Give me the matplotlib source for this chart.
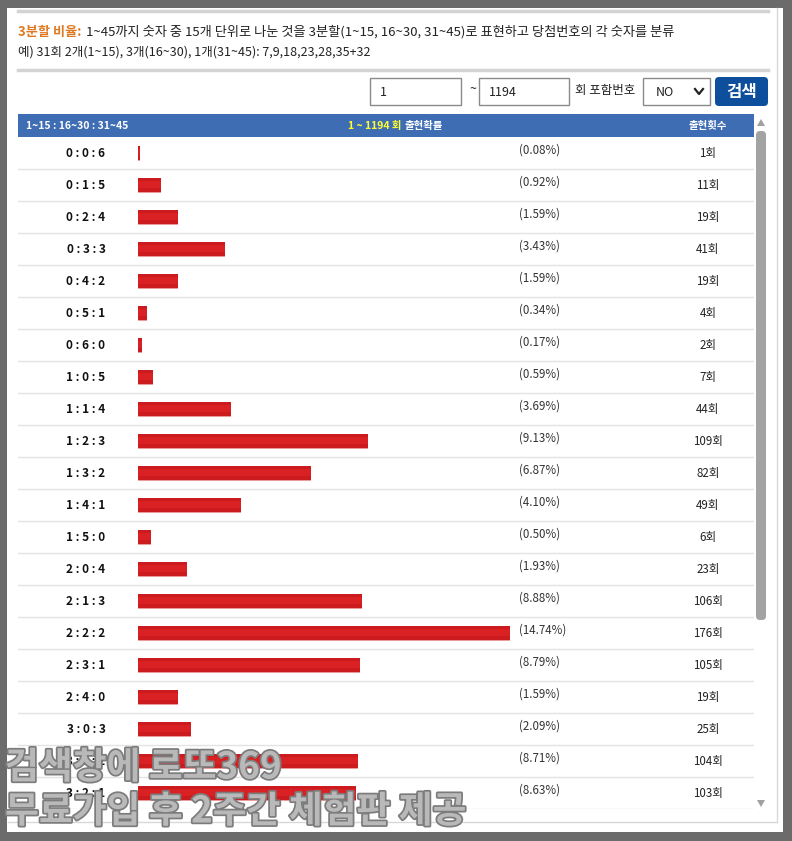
import matplotlib.pyplot as plt
import matplotlib.patheffects as pe
from matplotlib.patches import Rectangle, FancyBboxPatch, Polygon
from matplotlib.transforms import blended_transform_factory

# DATA #
combos = ['0:0:6', '0:1:5', '0:2:4', '0:3:3', '0:4:2', '0:5:1', '0:6:0',
          '1:0:5', '1:1:4', '1:2:3', '1:3:2', '1:4:1', '1:5:0',
          '2:0:4', '2:1:3', '2:2:2', '2:3:1', '2:4:0',
          '3:0:3', '3:1:2', '3:2:1']
pcts = [0.08, 0.92, 1.59, 3.43, 1.59, 0.34, 0.17,
        0.59, 3.69, 9.13, 6.87, 4.10, 0.50,
        1.93, 8.88, 14.74, 8.79, 1.59,
        2.09, 8.71, 8.63]
counts = [1, 11, 19, 41, 19, 4, 2,
          7, 44, 109, 82, 49, 6,
          23, 106, 176, 105, 19,
          25, 104, 103]
draw_from, draw_to = 1, 1194

plt.rcParams['font.family'] = ['Noto Sans CJK KR', 'DejaVu Sans']

W, H = 792, 841
fig = plt.figure(figsize=(W / 100, H / 100), dpi=100)
fig.patch.set_facecolor('#6b6b6b')


def px_axes(x0, y0, x1, y1, z):
    # axes placed by pixel box (top-left origin)
    ax = fig.add_axes([x0 / W, 1 - y1 / H, (x1 - x0) / W, (y1 - y0) / H], zorder=z)
    return ax


# BACKGROUND / PAGE DECORATION #
back = px_axes(0, 0, W, H, 0)
back.set_xlim(0, W)
back.set_ylim(H, 0)
back.axis('off')
back.add_patch(Rectangle((7, 8), 776, 824, fc='white', ec='none'))
back.plot([18, 768], [11, 11], color='#d3d3d3', lw=2.5)
back.plot([18, 768], [70, 70], color='#d3d3d3', lw=2.5)
back.plot([8, 777], [822, 822], color='#d8d8d8', lw=1)
back.plot([777, 777], [8, 822], color='#d8d8d8', lw=1)

t1 = back.text(18, 32, '3분할 비율:', color='#e07a22', fontsize=9.5, fontweight='bold', va='center')
back.annotate('1~45까지 숫자 중 15개 단위로 나눈 것을 3분할(1~15, 16~30, 31~45)로 표현하고 당첨번호의 각 숫자를 분류',
              xy=(1, 0.5), xycoords=t1, xytext=(3, 0), textcoords='offset points',
              va='center', fontsize=9.5, color='#222222')
back.text(18, 52, '예) 31회 2개(1~15), 3개(16~30), 1개(31~45): 7,9,18,23,28,35+32',
          fontsize=9, color='#222222', va='center')

# search inputs
back.add_patch(Rectangle((370, 78), 91, 27, fc='white', ec='#8a8a8a', lw=1))
back.text(380, 92, str(draw_from), fontsize=9, va='center', color='#222222')
back.text(469, 90, '~', fontsize=9, va='center', color='#222222')
back.add_patch(Rectangle((479, 78), 90, 27, fc='white', ec='#8a8a8a', lw=1))
back.text(489, 92, str(draw_to), fontsize=9, va='center', color='#222222')
back.text(575, 90, '회 포함번호', fontsize=9, va='center', color='#222222')
back.add_patch(Rectangle((643, 78), 67, 27, fc='white', ec='#8a8a8a', lw=1))
back.text(656, 92, 'NO', fontsize=9, va='center', color='#222222')
back.plot([695, 699, 703], [89, 94, 89], color='#222222', lw=1.6)
back.add_patch(FancyBboxPatch((715, 77), 53, 29, boxstyle='round,pad=0,rounding_size=4',
                              fc='#0d4f9c', ec='none'))
back.text(741.5, 92, '검색', fontsize=12, fontweight='bold', color='white', ha='center', va='center')

# table header band
back.add_patch(Rectangle((18, 114), 736, 23, fc='#3f6db4', ec='none'))
back.text(26, 126, '1~15 : 16~30 : 31~45', fontsize=7.5, fontweight='bold', color='white', va='center')
t2 = back.text(348, 126, f'{draw_from} ~ {draw_to} 회', fontsize=7.5, fontweight='bold',
               color='#ffff33', va='center')
back.annotate('출현확률', xy=(1, 0.5), xycoords=t2, xytext=(2, 0), textcoords='offset points',
              va='center', fontsize=7.5, fontweight='bold', color='white')
back.text(708, 126, '출현횟수', fontsize=7.5, fontweight='bold', color='white', ha='center', va='center')

# scrollbar
back.add_patch(Polygon([[757, 126], [765, 126], [761, 119]], closed=True, fc='#a0a0a0', ec='none'))
back.add_patch(FancyBboxPatch((756, 131), 10, 489, boxstyle='round,pad=0,rounding_size=4',
                              fc='#a3a3a3', ec='none'))
back.add_patch(Polygon([[757, 800], [765, 800], [761, 807]], closed=True, fc='#a0a0a0', ec='none'))

# TABLE BODY #
tx0, tx1 = 18, 754
bar_zero_px = 138
px_per_pct = 372 / 14.74
ax = px_axes(tx0, 137, tx1, 809, 2)
ax.patch.set_alpha(0)
n = len(combos)
rows = list(range(n))
ax.set_ylim(n - 0.5, -0.5)
ax.set_xlim(-(bar_zero_px - tx0) / px_per_pct, (tx1 - bar_zero_px) / px_per_pct)
ax.axis('off')

ax.barh(rows, pcts, height=0.44, left=0, color='#cc1b1e', zorder=3)
ax.barh([r - 0.02 for r in rows], pcts, height=0.2, left=0, color='#d92124', zorder=4)
ax.barh([r + 0.24 for r in rows], pcts, height=0.05, left=0, color='#ec9a9a', zorder=3)

for r in rows[:-1]:
    ax.axhline(r + 0.5, color='#e3e3e3', lw=1)
ax.axhline(n - 0.5, color='#e3e3e3', lw=1)

tr = blended_transform_factory(ax.transAxes, ax.transData)
fx = lambda px: (px - tx0) / (tx1 - tx0)
for r, c, p, k in zip(rows, combos, pcts, counts):
    ax.text(fx(86), r + 0.02, ' : '.join(c.split(':')), transform=tr, ha='center', va='center',
            fontsize=8.5, fontweight='bold', color='#111111')
    ax.text(fx(519), r - 0.08, f'({p:.2f}%)', transform=tr, ha='left', va='center',
            fontsize=8.3, color='#333333')
    ax.text(fx(708), r + 0.02, f'{k}회', transform=tr, ha='center', va='center',
            fontsize=8.3, color='#222222')

# WATERMARK #
front = px_axes(0, 0, W, H, 5)
front.set_xlim(0, W)
front.set_ylim(H, 0)
front.axis('off')
front.patch.set_alpha(0)
wm_fx = [pe.Stroke(linewidth=2.5, foreground='#7c7c7c'), pe.Normal()]
front.text(5, 768, '검색창에 로또369', fontsize=26.5, fontweight='black', color='#b9b9b9',
           va='center', path_effects=wm_fx)
front.text(5, 812, '무료가입 후 2주간 체험판 제공', fontsize=26.5, fontweight='black', color='#b9b9b9',
           va='center', path_effects=wm_fx)

fig.savefig('out.png', dpi=100, facecolor=fig.get_facecolor())
